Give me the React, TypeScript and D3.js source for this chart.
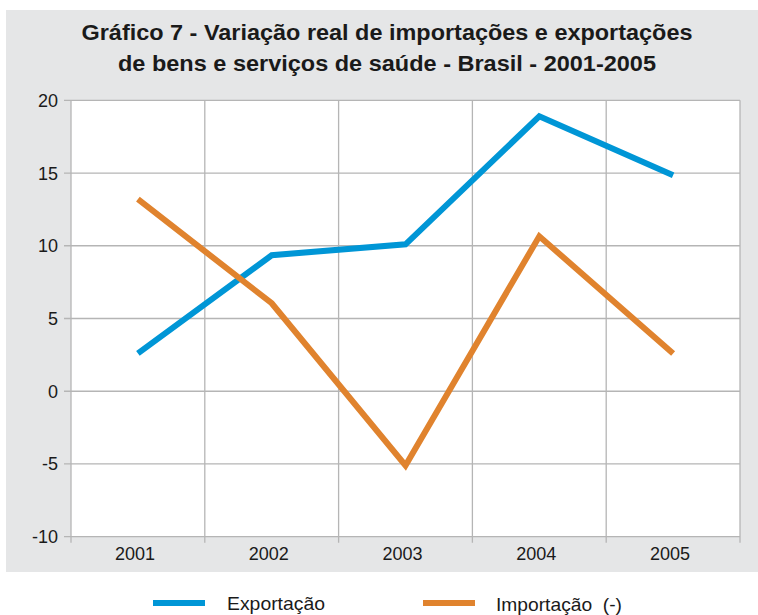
import React from "react";
import * as d3 from "d3";

const years = ["2001", "2002", "2003", "2004", "2005"];
const exportacao = [2.6, 9.35, 10.1, 18.9, 14.85];
const importacao = [13.2, 6.05, -5.1, 10.65, 2.6];
const yTicks = [-10, -5, 0, 5, 10, 15, 20];
const titleLines = [
  "Gráfico 7 - Variação real de importações e exportações",
  "de bens e serviços de saúde - Brasil - 2001-2005",
];
const legendLabels = ["Exportação", "Importação  (-)"];

const BLUE = "#0096d6";
const ORANGE = "#e0832e";
const GRID = "#b5b5b5";

export default function App() {
  const left = 71, right = 740, top = 100.3, bottom = 536.7;
  const x = d3.scaleBand<string>().domain(years).range([left, right]).padding(0);
  const y = d3.scaleLinear().domain([-10, 20]).range([bottom, top]);
  const cx = (d: string) => (x(d) as number) + x.bandwidth() / 2;
  const line = d3
    .line<number>()
    .x((_, i) => cx(years[i]))
    .y((v) => y(v));
  const boundaries = years.map((d) => x(d) as number).concat([right]);

  return (
    <svg
      width={758}
      height={615}
      style={{ position: "absolute", left: 0, top: 0 }}
      fontFamily="'Liberation Sans', Arial, sans-serif"
    >
      <rect x={0} y={0} width={758} height={615} fill="#fff" />
      <rect x={6} y={10} width={752} height={562} fill="#e5e6e7" />
      {titleLines.map((t, i) => (
        <text
          key={i}
          x={387}
          y={40 + i * 31}
          textAnchor="middle"
          fontFamily="'Liberation Sans Narrow', 'Liberation Sans', sans-serif"
          fontWeight="bold"
          fontSize={22}
          fill="#1a1a1a"
          textLength={i === 0 ? 611 : 538}
          lengthAdjust="spacingAndGlyphs"
        >
          {t}
        </text>
      ))}
      <rect x={left} y={top} width={right - left} height={bottom - top} fill="#fff" />
      {yTicks.map((t) => (
        <g key={t}>
          <line x1={64} x2={right} y1={y(t)} y2={y(t)} stroke={GRID} strokeWidth={1.3} />
          <text x={58} y={y(t) + 6.5} textAnchor="end" fontSize={18} fill="#1a1a1a">
            {t}
          </text>
        </g>
      ))}
      {boundaries.map((b, i) => (
        <line key={i} x1={b} x2={b} y1={top} y2={bottom + 6} stroke={GRID} strokeWidth={1.3} />
      ))}
      {years.map((d) => (
        <text key={d} x={cx(d) - 3} y={559.5} textAnchor="middle" fontSize={18} fill="#1a1a1a">
          {d}
        </text>
      ))}
      <path d={line(exportacao) || ""} fill="none" stroke={BLUE} strokeWidth={6} strokeLinejoin="miter" />
      <path d={line(importacao) || ""} fill="none" stroke={ORANGE} strokeWidth={6} strokeLinejoin="miter" />
      <line x1={153} x2={205} y1={603} y2={603} stroke={BLUE} strokeWidth={6} />
      <text x={227} y={610} fontSize={18.5} fill="#1a1a1a" textLength={98} lengthAdjust="spacingAndGlyphs">
        {legendLabels[0]}
      </text>
      <line x1={423} x2={475} y1={603} y2={603} stroke={ORANGE} strokeWidth={6} />
      <text
        x={496}
        y={611}
        fontSize={18.5}
        fill="#1a1a1a"
        textLength={126}
        lengthAdjust="spacingAndGlyphs"
        style={{ whiteSpace: "pre" }}
      >
        {legendLabels[1]}
      </text>
    </svg>
  );
}
